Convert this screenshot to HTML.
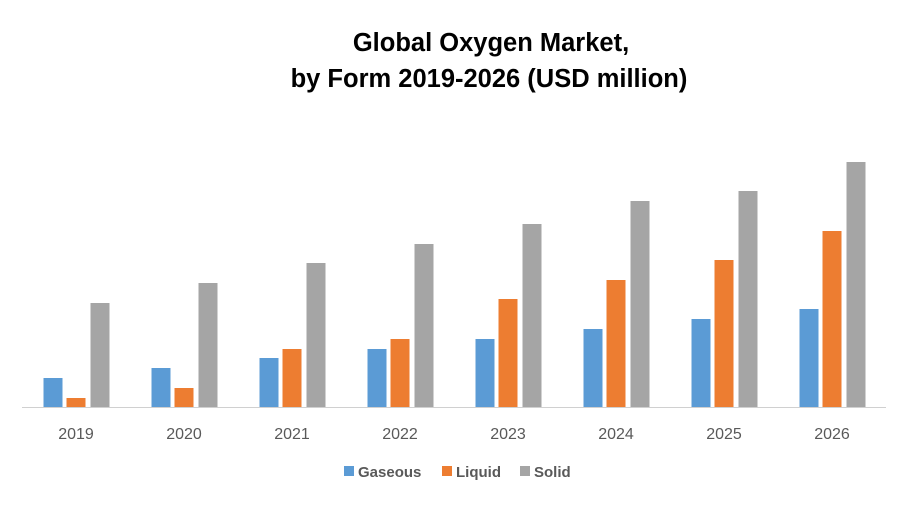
<!DOCTYPE html>
<html><head><meta charset="utf-8"><style>
body{margin:0;background:#fff;width:910px;height:504px;overflow:hidden;font-family:"Liberation Sans",sans-serif}
</style></head><body>
<svg width="910" height="504" id="c">
<text x="491" y="51" text-anchor="middle" font-size="25.5" font-weight="bold" fill="#000">Global Oxygen Market,</text>
<text x="489" y="87" text-anchor="middle" font-size="25.5" font-weight="bold" fill="#000">by Form 2019-2026 (USD million)</text>
<line x1="22" y1="407.5" x2="886" y2="407.5" stroke="#d0d0d0" stroke-width="1"/>
<g id="bars"></g>
<g id="labels"></g>
<g>
<rect x="344" y="466" width="10" height="10" fill="#5b9bd5"/>
<text x="358" y="477" font-size="15" font-weight="bold" fill="#595959">Gaseous</text>
<rect x="442" y="466" width="10" height="10" fill="#ed7d31"/>
<text x="456" y="477" font-size="15" font-weight="bold" fill="#595959">Liquid</text>
<rect x="520" y="466" width="10" height="10" fill="#a5a5a5"/>
<text x="534" y="477" font-size="15" font-weight="bold" fill="#595959">Solid</text>
</g>
</svg>
<script>
const categories=["2019","2020","2021","2022","2023","2024","2025","2026"];
const gaseous=[29,39,49,58,68,78,88,98];
const liquid=[9,19,58,68,108,127,147,176];
const solid=[104,124,144,163,183,206,216,245];
const ns="http://www.w3.org/2000/svg";
const x0=22,bandW=108,base=407,pxPerUnit=1;
function xCenter(i){return x0+bandW*i+bandW/2;}
function yScale(v){return base-v*pxPerUnit;}
const series=[{d:gaseous,c:"#5b9bd5",n:"gaseous",off:-23},{d:liquid,c:"#ed7d31",n:"liquid",off:0},{d:solid,c:"#a5a5a5",n:"solid",off:24}];
const g=document.getElementById("bars"),lg=document.getElementById("labels");
categories.forEach((cat,i)=>{
 series.forEach(s=>{
  const r=document.createElementNS(ns,"rect");
  const y=yScale(s.d[i]);
  r.setAttribute("x",xCenter(i)+s.off-9.5);
  r.setAttribute("y",y);
  r.setAttribute("width",19);
  r.setAttribute("height",base-y);
  r.setAttribute("fill",s.c);
  
  
  g.appendChild(r);
 });
 const t=document.createElementNS(ns,"text");
 t.setAttribute("x",xCenter(i));
 t.setAttribute("y",439);
 t.setAttribute("text-anchor","middle");
 t.setAttribute("font-size","16");
 t.setAttribute("fill","#595959");
 t.textContent=cat;
 
 
 lg.appendChild(t);
});
</script>
</body></html>
